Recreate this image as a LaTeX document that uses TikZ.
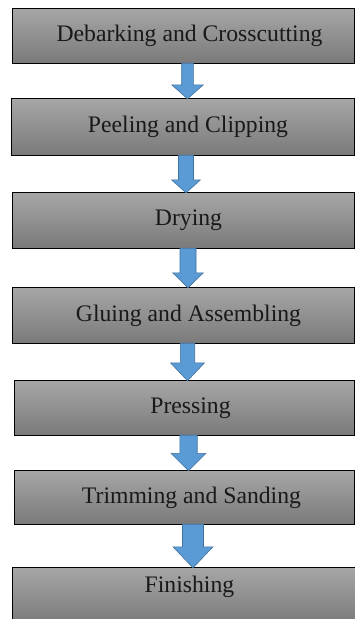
\documentclass[tikz,border=0pt]{standalone}
\usepackage{fontspec}
\setmainfont{LiberationSerif}[Extension=.ttf, UprightFont=*-Regular, BoldFont=*-Bold]
\usetikzlibrary{calc}
\definecolor{boxtop}{RGB}{166,166,166}
\definecolor{boxbot}{RGB}{122,122,122}
\definecolor{arrfill}{RGB}{91,155,213}
\definecolor{arredge}{RGB}{65,113,156}
\tikzset{
  stepbox/.style={draw=black, line width=0.9pt, top color=boxtop, bottom color=boxbot, shading angle=0},
  lbl/.style={font=\rmfamily\fontsize{23.7}{27}\selectfont, text=black!90, inner sep=0pt},
  arr/.style={fill=arrfill, draw=arredge, line width=0.6pt, line join=miter}
}
\newcommand\barrow[6]{% from, to, x centre, shaft half, head half, head length
  \path[arr] let \p1=(#1.south), \p2=(#2.north) in
    ({#3-#4},\y1) -- ({#3+#4},\y1) -- ({#3+#4},{\y2+#6}) -- ({#3+#5},{\y2+#6})
    -- (#3,\y2) -- ({#3-#5},{\y2+#6}) -- ({#3-#4},{\y2+#6}) -- cycle;}
\begin{document}
\begin{tikzpicture}[x=1pt,y=1pt]
\useasboundingbox (0,0) rectangle (355,-619);
\fill[white] (0,0) rectangle (355,-619);
% boxes
\node[inner sep=0pt, minimum width=341pt, minimum height=54pt] (b1) at (183.5,-36) {};
\node[inner sep=0pt, minimum width=342pt, minimum height=56pt] (b2) at (183,-127) {};
\node[inner sep=0pt, minimum width=341pt, minimum height=55pt] (b3) at (183.5,-220.5) {};
\node[inner sep=0pt, minimum width=341pt, minimum height=55pt] (b4) at (183.5,-315.5) {};
\node[inner sep=0pt, minimum width=339pt, minimum height=54pt] (b5) at (184.5,-408) {};
\node[inner sep=0pt, minimum width=339pt, minimum height=53pt] (b6) at (184.5,-497.5) {};
\node[inner sep=0pt, minimum width=347pt, minimum height=56pt] (b7) at (186.5,-596) {};
\foreach \b in {b1,b2,b3,b4,b5,b6,b7}{
  \draw[stepbox] (\b.north west) rectangle (\b.south east);
}
% labels
\node[lbl] (t1) at ([xshift=6pt,yshift=0pt]b1.center) {Debarking and Crosscutting};
\node[lbl] (t2) at ([xshift=5pt,yshift=0pt]b2.center) {Peeling and Clipping};
\node[lbl] (t3) at ([xshift=5pt,yshift=0pt]b3.center) {Drying};
\node[lbl] (t4) at ([xshift=5pt,yshift=0pt]b4.center) {Gluing and Assembling};
\node[lbl] (t5) at ([xshift=6pt,yshift=0pt]b5.center) {Pressing};
\node[lbl] (t6) at ([xshift=7pt,yshift=0pt]b6.center) {Trimming and Sanding};
\node[lbl] (t7) at ([xshift=3pt,yshift=9pt]b7.center) {Finishing};
% arrows
\barrow{b1}{b2}{187.5}{5.8}{15.8}{14}
\barrow{b2}{b3}{186}{7.5}{14.5}{13}
\barrow{b3}{b4}{188}{8}{15.3}{15}
\barrow{b4}{b5}{187.5}{7.2}{17}{18}
\barrow{b5}{b6}{188.5}{8.7}{17.5}{17.5}
\barrow{b6}{b7}{193}{10.5}{20}{21}
\end{tikzpicture}
\end{document}
